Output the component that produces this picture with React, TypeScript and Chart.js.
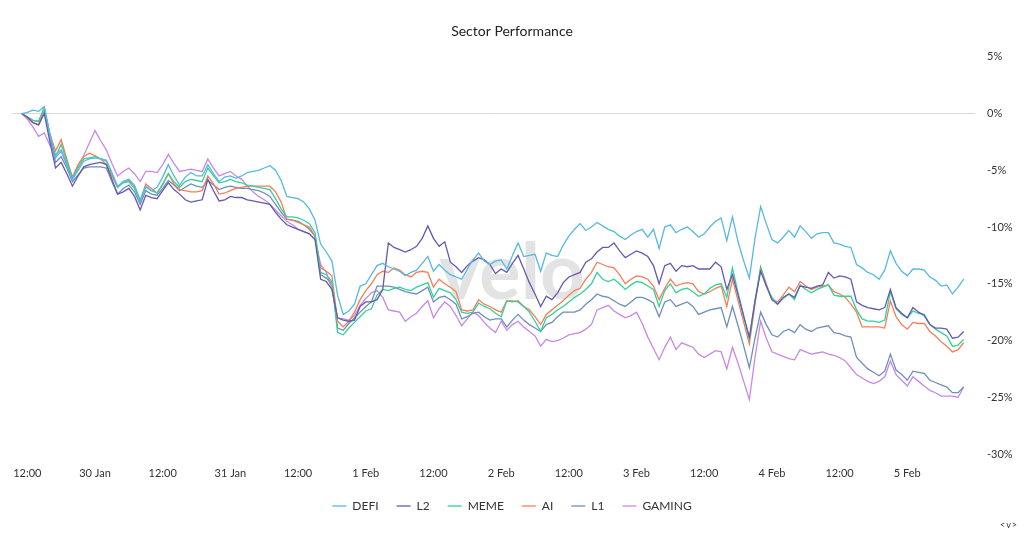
import React, { useEffect, useRef } from 'react';
import { Chart, registerables } from 'chart.js';

Chart.register(...registerables);

const FONT = 'Lato, "Open Sans", sans-serif';

// Hourly data, first point = 29 Jan 11:00 (hours counted from 29 Jan 00:00)
const firstHour = 11;
const tickLabels = ['12:00', '30 Jan', '12:00', '31 Jan', '12:00', '1 Feb', '12:00', '2 Feb', '12:00', '3 Feb', '12:00', '4 Feb', '12:00', '5 Feb'];
const yTicks = [-30, -25, -20, -15, -10, -5, 0, 5];
const seriesNames = ['DEFI', 'L2', 'MEME', 'AI', 'L1', 'GAMING'];
const seriesColors = ['#56b9e0', '#6459b3', '#34d19a', '#f37f58', '#6e8fb8', '#c988e6'];

const defi = [
  0, 0.1, 0.3, 0.2, 0.6, -1.8, -3.9, -3.3, -4.6, -5.8, -5.0, -4.2,
  -4.0, -3.9, -4.0, -4.1, -5.2, -6.4, -6.0, -5.8, -6.3, -7.6, -6.4, -6.8,
  -6.5, -5.6, -4.5, -5.5, -6.3, -5.6, -5.2, -5.5, -5.5, -4.5, -5.3, -6.0,
  -5.6, -5.5, -5.7, -5.5, -5.2, -5.1, -5.0, -4.8, -4.6, -5.0, -5.9, -7.3,
  -7.4, -7.5, -7.8, -8.4, -9.4, -11.5, -12.2, -13.0, -16.0, -17.7, -17.4, -16.8,
  -15.2, -15.0, -14.2, -13.4, -13.2, -13.5, -13.7, -13.9, -14.3, -14.0, -13.8, -13.2,
  -12.6, -13.9, -13.3, -13.8, -14.2, -14.4, -14.6, -13.7, -12.9, -12.3, -13.0, -13.3,
  -13.0, -12.9, -13.7, -12.5, -11.4, -12.6, -12.5, -12.4, -13.9, -12.3, -12.5, -12.6,
  -11.6, -10.8, -10.2, -9.7, -10.3, -10.0, -9.6, -9.9, -10.2, -10.4, -10.8, -11.1,
  -10.7, -10.4, -10.2, -10.9, -10.2, -11.9, -10.0, -9.8, -10.5, -10.2, -10.0, -10.4,
  -10.9, -10.6, -10.0, -9.5, -9.2, -11.2, -9.1, -11.3, -13.0, -14.5, -11.0, -8.2,
  -9.7, -11.1, -11.4, -10.9, -10.3, -10.9, -9.9, -10.4, -11.0, -10.6, -10.5, -10.5,
  -11.4, -11.5, -11.7, -11.8, -13.3, -13.6, -14.0, -14.2, -14.6, -13.8, -12.1, -13.2,
  -13.9, -14.3, -13.7, -13.7, -13.8, -14.4, -14.7, -15.2, -15.1, -15.9, -15.3, -14.6,
];

const l2 = [
  0, -0.3, -0.8, -1.0, 0.0, -2.5, -4.8, -4.3, -5.3, -6.4, -5.5, -4.7,
  -4.5, -4.4, -4.3, -4.5, -5.8, -7.1, -6.9, -6.6, -7.3, -8.5, -7.2, -7.4,
  -7.5, -6.8, -6.1, -6.7, -7.1, -7.6, -7.8, -7.7, -7.6, -5.8, -6.8, -7.7,
  -7.6, -7.3, -7.4, -7.4, -7.6, -7.7, -7.8, -7.9, -8.0, -8.7, -9.3, -9.8,
  -10.0, -10.2, -10.4, -10.6, -11.1, -14.6, -14.8, -15.5, -18.0, -18.2, -18.3, -18.2,
  -17.0, -16.6, -16.6, -16.4, -15.5, -11.4, -11.8, -12.0, -12.2, -12.0, -11.7, -11.0,
  -9.9, -11.0, -11.7, -11.3, -13.1, -13.5, -14.0, -13.4, -13.0, -12.7, -12.9, -13.3,
  -14.1, -13.7, -14.0, -13.2, -12.5, -13.7, -14.9, -15.9, -17.0, -16.1, -16.4, -15.8,
  -14.9, -14.4, -14.2, -14.0, -13.1, -12.8, -12.2, -11.8, -11.8, -11.4, -12.1, -12.7,
  -12.4, -12.1, -12.3, -12.6, -13.4, -15.0, -13.4, -13.2, -13.9, -13.4, -13.5, -13.4,
  -13.7, -13.7, -13.7, -13.1, -13.5, -15.5, -14.2, -16.0, -17.9, -19.7, -16.5, -13.9,
  -15.2, -16.4, -16.8, -16.2, -15.9, -16.2, -15.2, -15.3, -15.4, -15.2, -15.1, -14.0,
  -14.5, -14.3, -14.4, -14.6, -16.6, -16.9, -17.1, -17.2, -17.3, -17.1, -15.5, -17.1,
  -17.6, -18.0, -17.1, -17.5, -17.8, -18.6, -18.9, -18.9, -19.0, -19.8, -19.7, -19.2,
];

const meme = [
  0, -0.3, -0.6, -0.7, 0.5, -1.8, -3.8, -2.7, -4.2, -5.7, -4.8, -4.0,
  -3.9, -3.8, -4.0, -4.2, -5.3, -6.5, -6.1, -6.0, -6.6, -7.7, -6.5, -6.8,
  -7.0, -6.2, -5.3, -6.0, -6.5, -6.0, -5.8, -5.9, -6.0, -4.8, -5.5, -6.1,
  -6.0, -5.8, -6.0, -6.1, -6.3, -6.4, -6.5, -6.6, -6.7, -7.5, -8.4, -9.1,
  -9.1, -9.2, -9.4, -9.7, -10.5, -14.0, -14.2, -14.8, -19.3, -19.5, -18.9, -18.4,
  -17.9, -17.4, -17.2, -16.0, -15.5, -15.6, -15.4, -15.3, -15.5, -15.6, -15.3, -15.1,
  -14.9, -16.2, -15.4, -15.6, -15.8, -16.4, -17.5, -17.6, -17.5, -16.7, -17.0, -17.2,
  -17.6, -17.9, -16.5, -16.5, -16.6, -17.0, -17.5, -18.3, -19.2, -18.0, -17.7, -17.3,
  -17.0, -16.6, -16.2, -15.9, -15.5, -15.0, -14.0, -14.6, -14.8, -14.6, -15.0, -15.5,
  -15.1, -14.8, -14.9, -15.2, -15.5, -17.0, -15.6, -15.0, -15.8, -15.5, -15.4, -15.7,
  -16.1, -15.9, -15.4, -15.1, -15.0, -16.2, -13.6, -15.8, -17.8, -19.9, -16.5, -13.6,
  -15.2, -16.2, -16.8, -16.3, -15.9, -16.4, -15.1, -15.5, -15.8, -15.5, -15.3, -15.1,
  -16.0, -16.1, -16.1, -16.1, -17.3, -18.1, -18.3, -18.3, -18.4, -18.2, -15.7, -17.2,
  -17.7, -18.0, -17.4, -17.6, -17.7, -18.6, -19.0, -19.3, -19.6, -20.5, -20.4, -19.9,
];

const ai = [
  0, -0.4, -0.8, -1.0, 0.2, -1.8, -3.3, -2.3, -4.0, -5.6, -4.5, -3.8,
  -3.5, -3.7, -4.0, -4.5, -5.5, -6.5, -6.0, -5.9, -6.5, -7.7, -6.2, -6.6,
  -7.0, -6.3, -5.3, -6.2, -6.7, -6.8, -6.9, -6.9, -6.8, -5.5, -6.2, -7.1,
  -7.0, -6.8, -6.6, -6.5, -6.4, -6.4, -6.4, -6.4, -6.4, -6.9, -7.8, -9.3,
  -9.4, -9.6, -9.8, -10.0, -10.8, -13.6, -13.9, -14.3, -18.3, -18.8, -18.3, -17.5,
  -16.4, -15.6, -15.0, -14.2, -13.9, -14.0, -13.6, -13.8, -14.2, -14.4, -14.0, -13.9,
  -14.0, -15.3, -14.6, -15.0, -15.3, -15.7, -17.3, -17.4, -17.3, -16.4, -16.8, -17.0,
  -17.3, -17.5, -16.5, -16.6, -16.5, -17.0, -17.3, -17.9, -18.6, -17.7, -17.3, -16.9,
  -16.5, -16.0, -15.6, -15.4, -14.6, -14.0, -13.1, -13.3, -13.5, -13.6, -14.2, -15.0,
  -14.6, -14.3, -14.4, -14.6, -15.2, -16.4, -15.4, -14.6, -15.2, -15.0, -14.9, -15.0,
  -15.7, -15.9, -15.7, -15.4, -15.2, -17.0, -14.6, -16.5, -18.4, -20.3, -16.8, -13.5,
  -15.0, -16.4, -16.6, -16.0, -15.3, -15.7, -14.8, -15.2, -15.5, -15.3, -15.2, -15.1,
  -15.7, -15.9, -16.2, -16.8, -17.5, -18.8, -18.8, -18.8, -18.8, -18.9, -16.5, -17.9,
  -18.6, -19.0, -18.4, -18.5, -18.5, -19.2, -19.6, -20.1, -20.5, -21.0, -20.8, -20.2,
];

const l1 = [
  0, -0.3, -0.6, -0.7, 0.5, -2.0, -4.3, -3.8, -4.8, -6.0, -5.4, -4.8,
  -4.7, -4.7, -4.7, -4.8, -6.0, -7.1, -6.6, -6.3, -6.9, -8.0, -6.8, -7.1,
  -7.2, -6.6, -5.9, -6.3, -6.8, -6.5, -6.2, -6.4, -6.5, -5.9, -6.3, -6.7,
  -6.5, -6.4, -6.5, -6.6, -6.6, -6.7, -6.8, -7.0, -7.3, -8.0, -8.7, -9.3,
  -9.4, -9.5, -9.8, -10.2, -10.8, -14.2, -14.5, -15.0, -18.9, -19.1, -18.5, -18.0,
  -17.5, -17.0, -16.6, -15.2, -15.2, -15.2, -15.3, -15.5, -15.7, -15.8, -15.9, -15.6,
  -15.3, -16.6, -16.2, -16.1, -16.4, -16.8, -18.1, -17.9, -17.6, -17.5, -17.9, -18.2,
  -18.1, -18.1, -18.8, -18.2, -17.7, -18.2, -18.6, -18.9, -19.2, -18.6, -18.4, -17.9,
  -17.5, -17.5, -17.5, -17.3, -16.8, -16.4, -15.9, -16.1, -16.2, -16.5, -16.8, -17.0,
  -16.6, -16.2, -16.2, -16.4, -16.7, -17.9, -16.6, -16.4, -17.0, -16.8, -16.6, -17.0,
  -17.7, -17.5, -17.3, -17.2, -17.1, -18.8, -17.0, -18.7, -20.5, -22.4, -19.8, -17.5,
  -18.6, -19.5, -19.7, -19.2, -19.0, -19.3, -18.6, -19.0, -19.2, -18.9, -18.8, -18.7,
  -19.3, -19.4, -19.6, -19.7, -21.5, -22.0, -22.5, -22.8, -23.1, -22.7, -21.2, -22.6,
  -23.0, -23.5, -22.7, -22.8, -22.9, -23.5, -23.7, -23.9, -24.1, -24.6, -24.6, -24.1,
];

const gaming = [
  0, -0.5, -1.2, -2.0, -1.7, -2.8, -3.6, -3.2, -4.4, -5.7, -4.6, -3.7,
  -2.6, -1.5, -2.4, -3.2, -4.4, -5.5, -5.1, -4.8, -5.3, -6.0, -5.1, -5.1,
  -5.2, -4.5, -3.6, -4.4, -5.1, -5.0, -4.9, -5.0, -5.1, -4.0, -4.8, -5.5,
  -5.3, -5.1, -5.5, -5.8, -6.4, -6.9, -7.3, -7.6, -8.0, -8.5, -9.0, -9.5,
  -9.8, -10.2, -10.4, -10.6, -11.1, -13.3, -14.0, -15.5, -18.0, -18.1, -18.2, -17.8,
  -16.9, -16.3, -15.8, -15.6, -16.2, -17.3, -17.4, -17.5, -18.3, -17.9, -17.6, -17.0,
  -16.5, -18.0, -17.2, -16.6, -17.0, -17.8, -18.7, -18.1, -17.5, -17.8, -18.4, -18.9,
  -19.3, -18.3, -19.1, -18.6, -18.3, -18.8, -19.2, -19.6, -20.5, -19.9, -20.1, -20.0,
  -19.8, -19.5, -19.4, -19.3, -19.0, -18.6, -17.3, -17.1, -16.9, -17.4, -17.7, -18.0,
  -17.8, -17.5, -18.5, -19.7, -20.7, -21.7, -20.6, -19.7, -20.8, -20.2, -20.4, -20.6,
  -21.2, -21.5, -21.2, -20.9, -21.0, -22.5, -20.6, -22.0, -23.6, -25.2, -21.5, -18.3,
  -19.8, -21.0, -21.2, -21.4, -21.6, -21.7, -20.8, -21.0, -21.2, -21.1, -21.0, -21.2,
  -21.3, -21.5, -21.8, -22.4, -23.0, -23.3, -23.6, -23.8, -23.6, -23.2, -21.8, -23.0,
  -23.5, -24.0, -23.2, -23.6, -24.0, -24.4, -24.6, -24.9, -24.9, -24.9, -25.0, -24.1,
];

const seriesValues = [defi, l2, meme, ai, l1, gaming];

const watermarkPlugin = {
  id: 'veloWatermark',
  beforeDatasetsDraw(chart: any) {
    const { ctx, chartArea } = chart;
    ctx.save();
    ctx.font = `bold 78px ${FONT}`;
    ctx.fillStyle = 'rgba(0,0,0,0.11)';
    ctx.textAlign = 'center';
    ctx.textBaseline = 'alphabetic';
    ctx.fillText('velo', chart.width / 2, chartArea.top + (chartArea.bottom - chartArea.top) * 0.61);
    ctx.restore();
  },
};

export default function App() {
  const canvasRef = useRef<HTMLCanvasElement | null>(null);

  useEffect(() => {
    if (!canvasRef.current) return;
    const datasets = seriesNames.map((name, si) => ({
      label: name,
      data: seriesValues[si].map((v, i) => ({ x: firstHour + i, y: v })),
      borderColor: seriesColors[si],
      backgroundColor: seriesColors[si],
      borderWidth: 1.3,
      pointRadius: 0,
      tension: 0,
      fill: false,
    }));

    const chart = new Chart(canvasRef.current, {
      type: 'line',
      data: { datasets },
      plugins: [watermarkPlugin],
      options: {
        animation: false,
        responsive: false,
        events: [],
        layout: { padding: { left: 6, right: 6, top: 0, bottom: 14 } },
        plugins: {
          title: {
            display: true,
            text: 'Sector Performance',
            color: '#222',
            font: { family: FONT, size: 14, weight: 'normal' },
            padding: { top: 23, bottom: 17 },
          },
          legend: {
            position: 'bottom',
            labels: {
              usePointStyle: true,
              pointStyle: 'line',
              pointStyleWidth: 14,
              color: '#333',
              padding: 18,
              font: { family: FONT, size: 12 },
            },
          },
          tooltip: { enabled: false },
        },
        scales: {
          x: {
            type: 'linear',
            min: 9.3,
            max: 180,
            grid: { display: false, drawTicks: false },
            border: { display: false },
            afterBuildTicks: (s: any) => {
              s.ticks = tickLabels.map((_, i) => ({ value: 12 * (i + 1) }));
            },
            afterFit: (s: any) => {
              s.height = 28;
            },
            ticks: {
              autoSkip: false,
              maxRotation: 0,
              padding: 13,
              color: '#333',
              font: { family: FONT, size: 11 },
              callback: (_v: any, i: number) => tickLabels[i],
            },
          },
          pad: {
            type: 'linear',
            position: 'left',
            display: true,
            grid: { display: false, drawTicks: false },
            border: { display: false },
            ticks: { display: false },
            afterFit: (s: any) => {
              s.width = 6;
            },
          },
          y: {
            type: 'linear',
            position: 'right',
            min: -30,
            max: 5,
            afterBuildTicks: (s: any) => {
              s.ticks = yTicks.map((v) => ({ value: v }));
            },
            grid: {
              drawTicks: false,
              color: (c: any) => (c.tick && c.tick.value === 0 ? '#d8d8d8' : 'rgba(0,0,0,0)'),
            },
            border: { display: false },
            afterFit: (s: any) => {
              s.width = 43;
            },
            ticks: {
              padding: 12,
              color: '#333',
              font: { family: FONT, size: 11 },
              callback: (v: any) => `${v}%`,
            },
          },
        },
      } as any,
    });
    return () => chart.destroy();
  }, []);

  return (
    <div style={{ position: 'fixed', left: 0, top: 0, width: 1024, height: 536, background: '#fff' }}>
      <canvas ref={canvasRef} width={1024} height={536} style={{ display: 'block', width: 1024, height: 536 }} />
      <div
        style={{
          position: 'absolute',
          left: 1000,
          top: 519,
          fontFamily: FONT,
          fontSize: 9,
          color: '#333',
          letterSpacing: 1,
        }}
      >
        {'<v>'}
      </div>
    </div>
  );
}
